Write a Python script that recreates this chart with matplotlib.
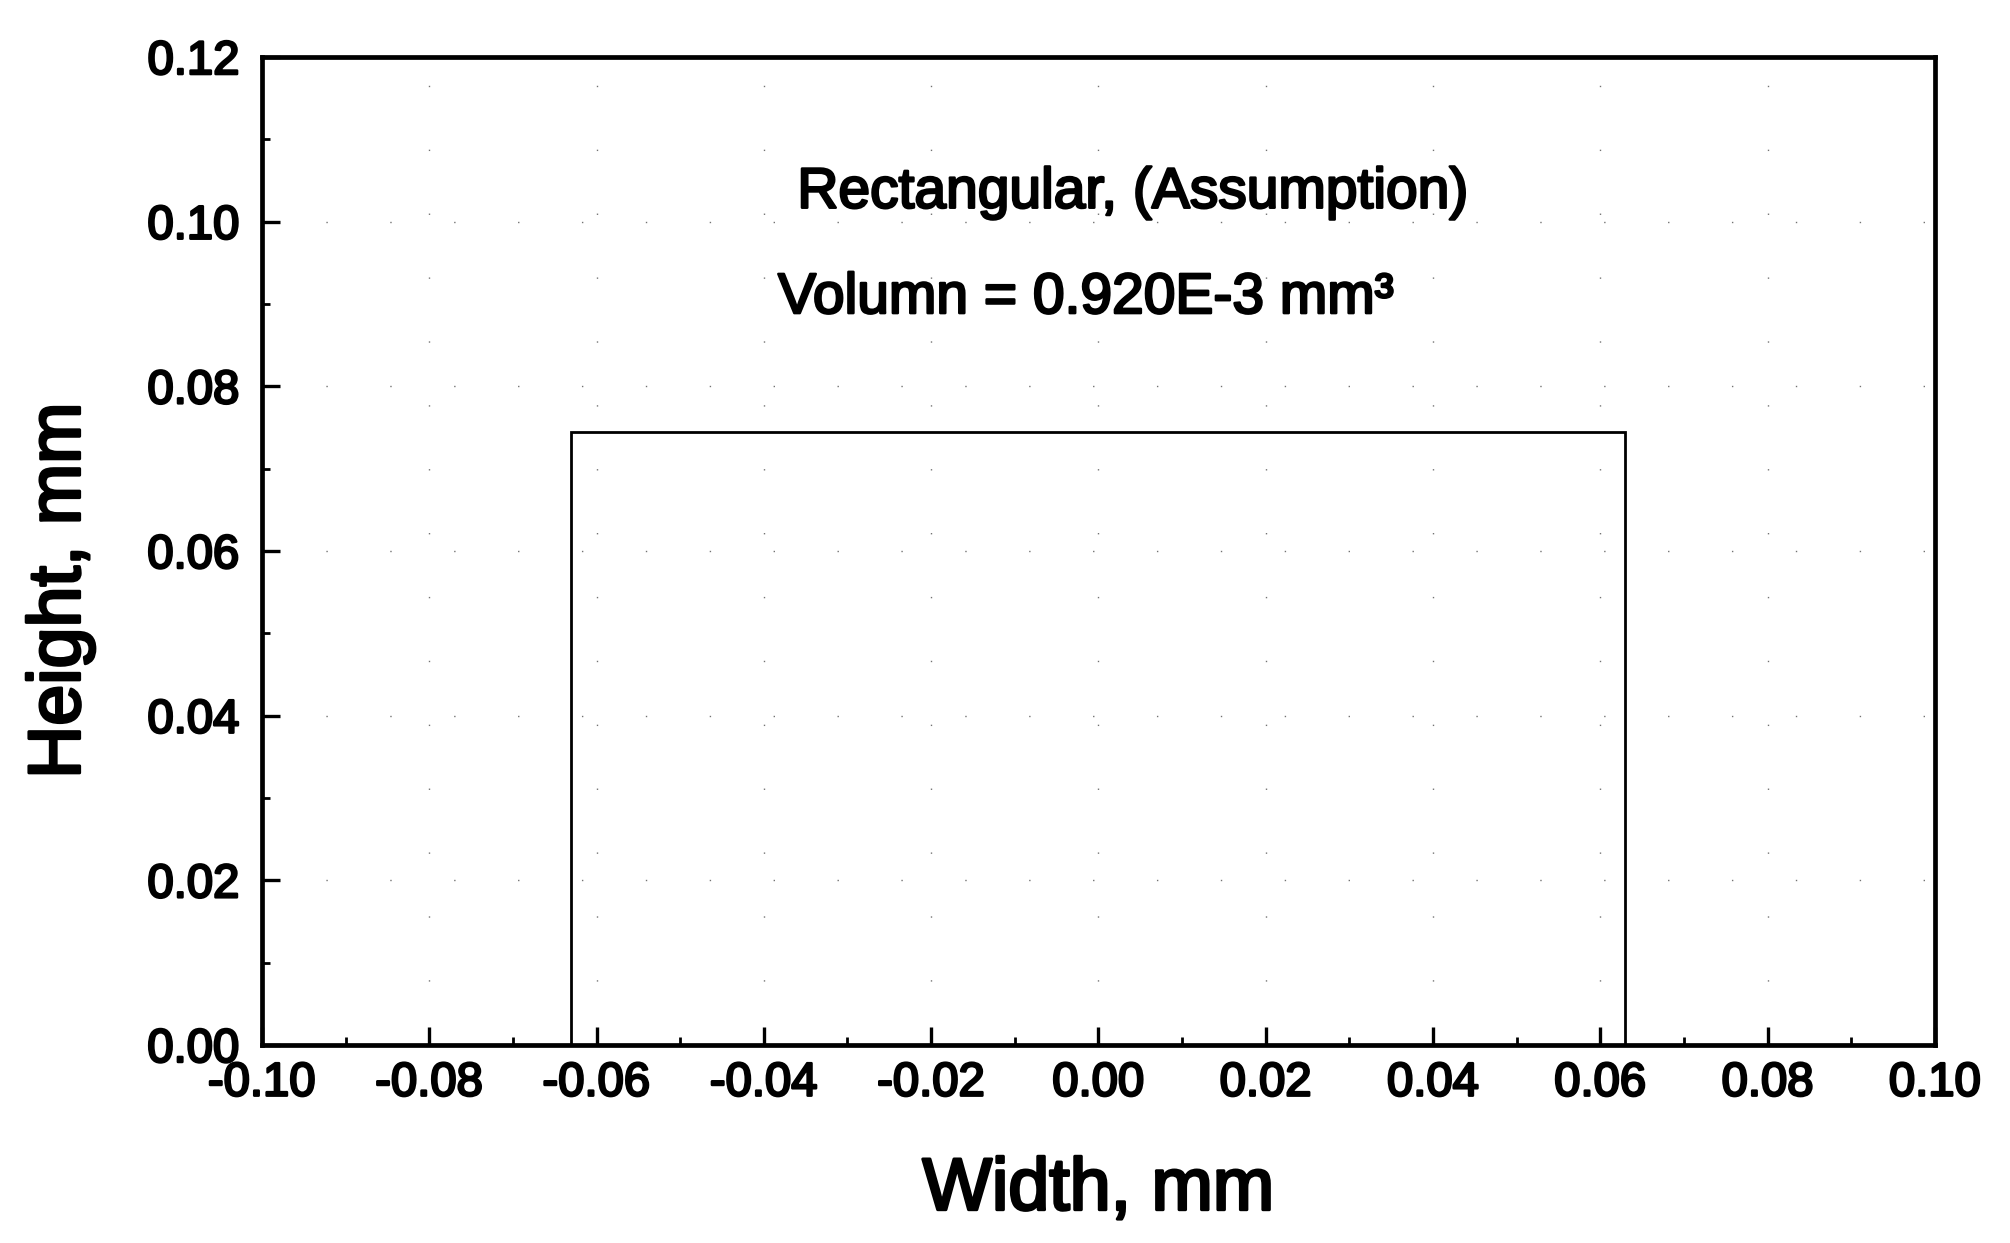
import matplotlib
matplotlib.use("Agg")
import matplotlib.pyplot as plt
import matplotlib.patheffects as pe
from matplotlib.ticker import MultipleLocator, FormatStrFormatter

# Data
rect_x = [-0.063, -0.063, 0.063, 0.063]
rect_y = [0.0, 0.0745, 0.0745, 0.0]
xticks = [-0.10, -0.08, -0.06, -0.04, -0.02, 0.00, 0.02, 0.04, 0.06, 0.08, 0.10]
yticks = [0.00, 0.02, 0.04, 0.06, 0.08, 0.10, 0.12]
title_line1 = "Rectangular, (Assumption)"
title_line2 = "Volumn = 0.920E-3 mm\u00b3"

plt.rcParams['font.family'] = ['Liberation Sans', 'DejaVu Sans']

heavy = [pe.withStroke(linewidth=1.8, foreground='black')]

fig = plt.figure(figsize=(20.10, 12.43), dpi=100)
ax = fig.add_axes([0.1303, 0.1593, 0.9627 - 0.1303, 0.9541 - 0.1593])

ax.plot(rect_x, rect_y, color='black', lw=2.0, solid_joinstyle='miter')

ax.set_xlim(-0.10, 0.10)
ax.set_ylim(0.0, 0.12)
ax.set_xticks(xticks)
ax.set_yticks(yticks)
ax.xaxis.set_major_formatter(FormatStrFormatter('%.2f'))
ax.yaxis.set_major_formatter(FormatStrFormatter('%.2f'))
ax.xaxis.set_minor_locator(MultipleLocator(0.01))
ax.yaxis.set_minor_locator(MultipleLocator(0.01))

ax.tick_params(axis='both', which='major', direction='in', length=13, width=2.4,
               labelsize=34, top=False, right=False)
ax.tick_params(axis='both', which='minor', direction='in', length=6, width=2.0,
               top=False, right=False)
ax.tick_params(axis='x', which='major', pad=12)
ax.tick_params(axis='y', which='major', pad=16)

for lab in ax.get_xticklabels() + ax.get_yticklabels():
    lab.set_path_effects(heavy)

for s in ax.spines.values():
    s.set_linewidth(3.4)

# faint dotted grid (scan remnants)
ax.grid(True, which='major', color='black', linestyle=(0, (1, 45)), linewidth=1.0, alpha=0.55)

xl = ax.set_xlabel("Width, mm", fontsize=53, labelpad=36)
yl = ax.set_ylabel("Height, mm", fontsize=53)
ax.yaxis.set_label_coords(-0.100, 0.46)
xl.set_path_effects([pe.withStroke(linewidth=2.2, foreground='black')])
yl.set_path_effects([pe.withStroke(linewidth=2.2, foreground='black')])

t1 = ax.text(-0.036, 0.1017, title_line1, fontsize=41, ha='left', va='baseline')
t2 = ax.text(-0.0383, 0.0889, title_line2, fontsize=41, ha='left', va='baseline')
t1.set_path_effects(heavy)
t2.set_path_effects(heavy)

fig.savefig("out.png", dpi=100, facecolor='white')
